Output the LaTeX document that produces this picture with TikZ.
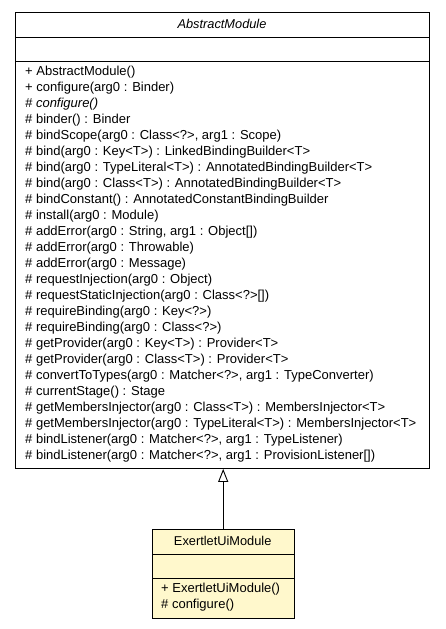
\documentclass[tikz,border=0pt]{standalone}
\usepackage{fontspec}
\setmainfont{Liberation Sans}
\usetikzlibrary{arrows.meta}
\definecolor{umlyellow}{HTML}{FFF8CC}
\definecolor{umlline}{HTML}{000000}
\tikzset{
  classbox/.style={draw=umlline, line width=0.9pt, rectangle, inner sep=0pt, anchor=north west},
  sep/.style={draw=umlline, line width=0.9pt},
  mtext/.style={anchor=west, inner sep=0pt, font=\fontsize{13}{14}\selectfont},
  ttext/.style={anchor=center, inner sep=0pt, font=\fontsize{12.8}{14}\selectfont},
  inherit/.style={draw=umlline, line width=0.9pt, -{Triangle[open, length=13pt, width=10pt]}}
}
\begin{document}
\begin{tikzpicture}[x=1pt,y=-1pt]
\useasboundingbox (0,0) rectangle (445,629);
% AbstractModule
\node[classbox, minimum width=414pt, minimum height=456pt, fill=white] (abs) at (15,12) {};
\draw[sep] ([yshift=-25pt]abs.north west) -- ([yshift=-25pt]abs.north east);
\draw[sep] ([yshift=-49pt]abs.north west) -- ([yshift=-49pt]abs.north east);
\node[ttext] (absname) at (222,23.5) {\itshape AbstractModule};
\node[mtext] (m1) at (25,72) {+ AbstractModule()};
\node[mtext] (m2) at (25,88) {+ configure(arg0 : Binder)};
\node[mtext] (m3) at (25,104) {\itshape \# configure()};
\node[mtext] (m4) at (25,120) {\# binder() : Binder};
\node[mtext] (m5) at (25,136) {\# bindScope(arg0 : Class<?>, arg1 : Scope)};
\node[mtext] (m6) at (25,152) {\# bind(arg0 : Key<T>) : LinkedBindingBuilder<T>};
\node[mtext] (m7) at (25,168) {\# bind(arg0 : TypeLiteral<T>) : AnnotatedBindingBuilder<T>};
\node[mtext] (m8) at (25,184) {\# bind(arg0 : Class<T>) : AnnotatedBindingBuilder<T>};
\node[mtext] (m9) at (25,200) {\# bindConstant() : AnnotatedConstantBindingBuilder};
\node[mtext] (m10) at (25,216) {\# install(arg0 : Module)};
\node[mtext] (m11) at (25,232) {\# addError(arg0 : String, arg1 : Object[])};
\node[mtext] (m12) at (25,248) {\# addError(arg0 : Throwable)};
\node[mtext] (m13) at (25,264) {\# addError(arg0 : Message)};
\node[mtext] (m14) at (25,280) {\# requestInjection(arg0 : Object)};
\node[mtext] (m15) at (25,296) {\# requestStaticInjection(arg0 : Class<?>[])};
\node[mtext] (m16) at (25,312) {\# requireBinding(arg0 : Key<?>)};
\node[mtext] (m17) at (25,328) {\# requireBinding(arg0 : Class<?>)};
\node[mtext] (m18) at (25,344) {\# getProvider(arg0 : Key<T>) : Provider<T>};
\node[mtext] (m19) at (25,360) {\# getProvider(arg0 : Class<T>) : Provider<T>};
\node[mtext] (m20) at (25,376) {\# convertToTypes(arg0 : Matcher<?>, arg1 : TypeConverter)};
\node[mtext] (m21) at (25,392) {\# currentStage() : Stage};
\node[mtext] (m22) at (25,408) {\# getMembersInjector(arg0 : Class<T>) : MembersInjector<T>};
\node[mtext] (m23) at (25,424) {\# getMembersInjector(arg0 : TypeLiteral<T>) : MembersInjector<T>};
\node[mtext] (m24) at (25,440) {\# bindListener(arg0 : Matcher<?>, arg1 : TypeListener)};
\node[mtext] (m25) at (25,456) {\# bindListener(arg0 : Matcher<?>, arg1 : ProvisionListener[])};
% ExertletUiModule
\node[classbox, minimum width=141.5pt, minimum height=89pt, fill=umlyellow] (sub) at (152,529.3) {};
\draw[sep] ([yshift=-25pt]sub.north west) -- ([yshift=-25pt]sub.north east);
\draw[sep] ([yshift=-49pt]sub.north west) -- ([yshift=-49pt]sub.north east);
\node[ttext] (subname) at (222.7,541) {ExertletUiModule};
\node[mtext] (s1) at (161,589) {+ ExertletUiModule()};
\node[mtext] (s2) at (161,605.5) {\# configure()};
% generalization
\draw[inherit] (sub.north) -- (sub.north |- abs.south);
\end{tikzpicture}
\end{document}
